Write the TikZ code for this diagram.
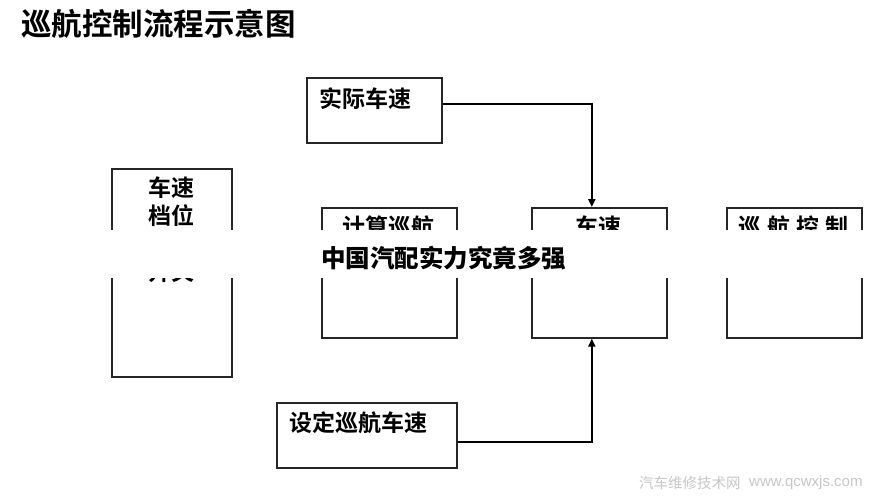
\documentclass[tikz,border=0pt]{standalone}
\usepackage{fontspec}
\newfontfamily\cjk{Noto Sans CJK SC}[BoldFont={Noto Sans CJK SC Bold}]
\newfontfamily\cjkblack{Noto Sans CJK SC Black}
\newfontfamily\wm{Liberation Sans}
\usetikzlibrary{arrows.meta}
\begin{document}
\begin{tikzpicture}[x=1pt,y=-1pt,
  box/.style={draw=black!85,line width=1.6pt,rectangle,inner sep=0pt,anchor=north west},
  txt/.style={inner sep=0pt,font=\cjk\bfseries\fontsize{23}{28}\selectfont},
  conn/.style={line width=2pt,-{Triangle[length=8pt,width=7pt]}}]
\useasboundingbox (0,0) rectangle (888,499);
\fill[white] (0,0) rectangle (888,499);
% title
\node[inner sep=0pt,anchor=west,font=\cjk\bfseries\fontsize{30.5}{31}\selectfont] (title) at (21,24) {巡航控制流程示意图};
% boxes
\node[box,minimum width=120pt,minimum height=208pt] (gear) at (111,168) {};
\node[box,minimum width=135pt,minimum height=130pt] (calc) at (321,207) {};
\node[box,minimum width=135pt,minimum height=130pt] (spd) at (531,207) {};
\node[box,minimum width=135pt,minimum height=130pt] (ctl) at (726,207) {};
\node[box,minimum width=135pt,minimum height=65pt] (act) at (306,77) {};
\node[box,minimum width=180pt,minimum height=65pt] (set) at (276,402) {};
% texts
\node[txt,anchor=north,align=center] (gtxt) at (171,177) {车速\\档位\\\\开关};
\node[txt,anchor=north] (ctxt) at (388.5,216) {计算巡航};
\node[txt,anchor=north] (stxt) at (598.5,216) {车速};
\node[txt,anchor=north] (ktxt) at (793.5,216) {巡\hspace{6pt}航\hspace{6pt}控\hspace{6pt}制};
\node[txt,anchor=west] (atxt) at (319,99) {实际车速};
\node[txt,anchor=west] (settxt) at (289,423) {设定巡航车速};
% connectors
\draw[conn] ([yshift=6.5pt]act.east) -| ([xshift=-7.5pt]spd.north);
\draw[conn] ([yshift=-6.5pt]set.east) -| ([xshift=-7.5pt]spd.south);
% banner overlay
\fill[white] (0,230) rectangle (888,278);
\node[inner sep=0pt,anchor=west,font=\cjkblack\fontsize{24.5}{25}\selectfont] (banner) at (321,258) {中国汽配实力究竟多强};
% watermark
\node[inner sep=0pt,anchor=west,text=black!22,font=\cjk\fontsize{14.5}{15}\selectfont] (wm1) at (639,483) {汽车维修技术网};
\node[inner sep=0pt,anchor=west,text=black!22,font=\wm\fontsize{15}{15}\selectfont] (wm2) at (749,483) {www.qcwxjs.com};
\end{tikzpicture}
\end{document}
